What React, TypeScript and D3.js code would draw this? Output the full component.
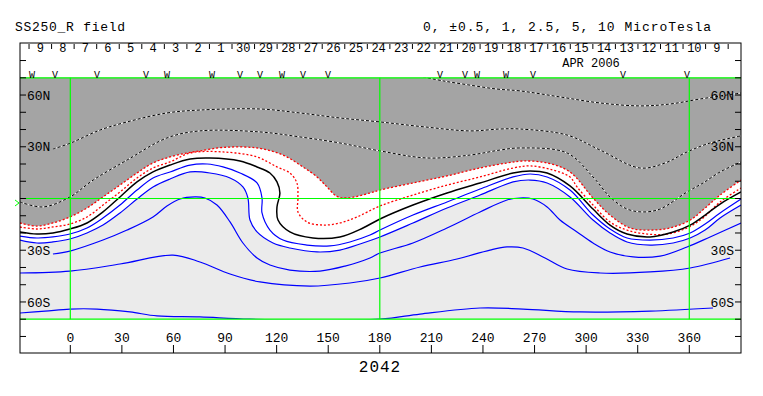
import React from "react";
import * as d3 from "d3";

type P = [number, number];

// Contour lines, [longitude, latitude]
const dashA: P[] = [[205.1,70.5],[216.8,68.2],[231.4,65.9],[247.9,63.5],[261.5,62.4],[284.8,58.9],[308.1,55.4],[331.3,53.7],[348.8,54.8],[366.3,57.7],[390.1,61.2]];
const dashB: P[] = [[-10.1,28.7],[-0.2,32.0],[17.3,39.7],[33.0,44.4],[56.2,49.6],[75.4,51.3],[110.3,51.9],[133.6,49.6],[156.8,46.7],[180.1,44.4],[206.3,41.5],[232.5,39.2],[249.9,40.3],[261.5,40.3],[288.9,36.8],[308.1,28.1],[331.3,17.7],[345.9,20.6],[358.7,27.0],[372.1,32.2],[390.1,36.3]];
const dashC: P[] = [[-29.3,-2.0],[-15.9,-4.9],[-0.2,0.9],[13.3,10.7],[33.0,22.3],[56.2,35.1],[75.4,39.2],[110.3,38.6],[133.6,35.7],[156.8,32.2],[180.1,27.6],[207.5,23.5],[232.5,25.2],[249.9,28.1],[261.5,29.3],[288.9,26.4],[304.0,12.5],[313.9,0.9],[323.8,-6.1],[333.1,-7.8],[343.0,-6.1],[358.7,3.8],[368.0,9.0],[377.9,15.4],[390.1,21.2]];
const redOuter: P[] = [[-29.3,-14.2],[-19.4,-16.0],[-10.1,-14.2],[-0.2,-10.7],[9.7,-5.5],[19.0,0.9],[28.9,7.8],[38.8,14.8],[48.1,20.6],[58.0,24.1],[67.9,26.4],[75.4,27.6],[88.8,29.6],[108.6,29.3],[123.7,25.2],[135.3,18.3],[143.5,12.5],[149.3,6.7],[155.1,1.2],[160.9,0.3],[174.3,3.2],[180.1,4.9],[199.3,9.0],[219.1,13.1],[238.3,17.7],[254.0,20.6],[263.3,21.75],[277.3,20.6],[290.6,15.4],[304.0,0.3],[313.9,-9.6],[325.5,-17.1],[337.2,-18.3],[348.8,-17.1],[360.5,-12.5],[369.2,-5.5],[377.9,2.0],[390.1,10.7]];
const redInner: P[] = [[-29.3,-16.5],[-19.4,-17.7],[-10.1,-16.5],[-0.2,-14.8],[9.7,-10.7],[19.0,-3.8],[28.9,3.8],[38.8,11.9],[48.1,17.7],[58.0,21.2],[69.7,26.4],[88.8,27.0],[108.6,24.1],[120.2,18.3],[127.7,14.8],[131.8,9.0],[132.4,0.3],[132.4,-7.8],[137.6,-13.6],[147.0,-15.4],[156.8,-14.2],[166.7,-10.7],[180.1,-4.35],[199.3,2.0],[219.1,7.8],[238.3,12.5],[257.5,17.7],[267.4,18.9],[280.7,16.5],[290.6,12.5],[294.7,6.7],[304.0,-3.8],[313.9,-13.6],[323.8,-18.3],[335.4,-20.6],[347.1,-20.6],[358.7,-17.1],[368.0,-11.3],[377.9,-2.0],[390.1,6.1]];
const neutral: P[] = [[-29.3,-19.4],[-19.4,-20.6],[-10.1,-20.0],[-0.2,-17.7],[9.7,-14.2],[19.0,-7.8],[28.9,0.9],[38.8,9.6],[48.1,15.4],[58.0,19.4],[69.7,22.9],[81.2,23.5],[98.7,21.75],[108.6,18.3],[116.1,14.8],[120.2,9.6],[121.9,3.2],[120.2,-4.9],[120.8,-12.5],[127.7,-19.4],[141.1,-22.9],[156.8,-22.3],[170.2,-17.1],[180.1,-11.9],[199.3,-3.8],[219.1,3.2],[238.3,9.0],[257.5,14.8],[267.4,16.0],[277.3,14.8],[290.6,7.3],[304.0,-6.1],[313.9,-15.4],[323.8,-20.6],[337.2,-22.3],[350.6,-19.4],[360.5,-15.4],[369.2,-9.6],[377.9,-3.2],[390.1,3.8]];
const blue05: P[] = [[-29.3,-21.75],[-19.4,-22.9],[-10.1,-22.3],[-0.2,-20.6],[9.7,-17.1],[19.0,-11.3],[28.9,-3.8],[38.8,4.9],[48.1,11.9],[58.0,15.4],[69.7,19.4],[79.6,20.0],[88.8,18.3],[98.7,14.8],[108.6,9.0],[111.5,0.3],[111.5,-8.4],[116.1,-18.3],[123.7,-24.1],[137.6,-27.0],[151.0,-27.5],[162.6,-25.2],[174.3,-21.2],[180.1,-18.3],[199.3,-9.6],[219.1,-2.0],[238.3,5.5],[257.5,12.5],[267.4,14.2],[277.3,12.5],[290.6,4.9],[304.0,-9.6],[313.9,-17.7],[323.8,-22.9],[337.2,-24.1],[350.6,-22.9],[360.5,-20.0],[369.2,-14.8],[377.9,-8.4],[390.1,-0.3]];
const blue1: P[] = [[-29.3,-24.1],[-19.4,-25.8],[-10.1,-25.2],[-0.2,-23.5],[9.7,-20.0],[19.0,-15.4],[28.9,-8.4],[38.8,-0.3],[48.1,6.7],[58.0,11.3],[69.7,15.4],[81.2,14.8],[92.9,11.9],[100.4,6.7],[103.3,0.3],[104.5,-12.5],[108.6,-19.4],[117.9,-25.8],[127.7,-28.7],[143.5,-31.0],[156.8,-29.9],[170.2,-25.8],[180.1,-22.3],[199.3,-14.2],[219.1,-5.5],[238.3,2.0],[257.5,9.6],[267.4,10.7],[277.3,9.0],[290.6,0.9],[304.0,-12.5],[313.9,-20.0],[323.8,-25.2],[337.2,-27.0],[350.6,-25.8],[360.5,-22.9],[369.2,-18.3],[377.9,-11.3],[390.1,-3.8]];
const blue25: P[] = [[-10.1,-32.2],[-0.2,-30.5],[19.0,-24.1],[33.0,-18.3],[48.1,-10.7],[56.2,-4.35],[63.8,-0.3],[72.5,0.9],[78.3,0.3],[85.3,-3.8],[92.9,-13.6],[100.4,-25.8],[108.6,-34.5],[116.1,-38.6],[127.7,-41.5],[145.2,-42.1],[159.8,-39.2],[174.3,-34.5],[180.1,-31.6],[199.3,-25.8],[219.1,-17.1],[238.3,-7.8],[254.0,-0.87],[261.5,0.3],[269.1,-0.3],[277.3,-4.9],[284.8,-12.5],[294.7,-19.4],[304.0,-25.8],[313.9,-31.0],[327.3,-33.9],[343.0,-33.4],[358.7,-28.1],[372.1,-22.3],[390.1,-14.2]];
const blue5: P[] = [[-29.3,-43.2],[-0.2,-42.1],[28.9,-38.0],[59.7,-32.8],[75.4,-36.8],[92.9,-43.8],[110.3,-48.4],[139.4,-50.8],[162.6,-49.0],[180.1,-46.1],[203.4,-39.7],[224.9,-35.1],[244.1,-29.9],[254.0,-28.1],[263.3,-28.7],[276.1,-34.5],[288.9,-40.9],[308.1,-43.2],[337.2,-42.6],[360.5,-40.3],[383.7,-34.5]];
const blue10: P[] = [[-29.3,-66.4],[-14.7,-65.3],[-0.2,-64.1],[15.5,-64.1],[34.7,-65.8],[50.4,-68.1],[75.4,-68.7],[104.5,-70],[180.1,-70],[203.4,-67],[238.3,-63.5],[263.3,-64.1],[296.4,-65.8],[337.2,-65.3],[373.8,-63.5]];

const latTicks = d3.range(-80, 81, 10);
const latLabels: [number, string][] = [[60, "60N"], [30, "30N"], [-30, "30S"], [-60, "60S"]];
const lonTicks = d3.range(0, 361, 30);
const greenLons = [0, 180, 360];
const greenLats = [70, 0, -70];
const earthLat = -2.6;

// Day strip (time runs right to left)
const dayStart = new Date(Date.UTC(2006, 3, 9));
const dayEnd = new Date(Date.UTC(2006, 4, 10));
const dayLonRange = [382.6, -24.0];

// Markers along the top
const markerLons = [-22.3, -8.9, 15.5, 44.0, 56.2, 82.4, 98.7, 110.3, 123.1, 135.3, 149.9, 215.0, 229.5, 236.5, 253.4, 269.1, 321.4, 358.7];
const markerTypes = ["W", "V", "V", "V", "W", "W", "V", "V", "W", "V", "V", "V", "V", "W", "W", "V", "V", "V"];

const FONT = "'Liberation Mono', 'DejaVu Sans Mono', monospace";

export default function App() {
  const W = 763, H = 396;
  const left = 20, right = 741, top = 43, bottom = 353;
  const x = d3.scaleLinear().domain([0, 360]).range([70.3, 689.3]);
  const y = d3.scaleLinear().domain([-90, 90]).range([353.7, 43.3]);
  const plotTop = y(70), plotBot = y(-70);

  const curve = d3.curveCatmullRom.alpha(0.5);
  const line = d3.line<P>().x(d => x(d[0])).y(d => y(d[1])).curve(curve);
  const areaBelow = d3.area<P>().x(d => x(d[0])).y0(y(-90)).y1(d => y(d[1])).curve(curve);
  const areaAbove = d3.area<P>().x(d => x(d[0])).y0(y(90)).y1(d => y(d[1])).curve(curve);

  const dayScale = d3.scaleUtc().domain([dayStart, dayEnd]).range(dayLonRange);
  const dayTicks = d3.utcDay.range(dayStart, new Date(+dayEnd + 1));
  const dayMids = d3.utcDay.range(dayStart, dayEnd).map(d => new Date(+d + 12 * 3600 * 1000));

  return (
    <svg width={W} height={H} style={{ display: "block", position: "absolute", left: 0, top: 0, background: "#fff" }}>
      <defs>
        <clipPath id="plot">
          <rect x={left} y={plotTop} width={right - left} height={plotBot - plotTop} />
        </clipPath>
      </defs>
      <text x={15} y={31} fontFamily={FONT} fontSize={13} textLength={110} fill="#000">SS250_R field</text>
      <text x={423} y={31} fontFamily={FONT} fontSize={13} textLength={288} fill="#000">0, ±0.5, 1, 2.5, 5, 10 MicroTesla</text>

      <g clipPath="url(#plot)">
        <rect x={left} y={plotTop} width={right - left} height={plotBot - plotTop} fill="#fff" />
        <path d={areaBelow(blue1) || ""} fill="#ebebeb" />
        <path d={areaAbove(redOuter) || ""} fill="#a4a4a4" />
        {[dashA, dashB, dashC].map((c, i) => (
          <g key={"d" + i}>
            <path d={line(c) || ""} fill="none" stroke="#fff" strokeWidth={1} />
            <path d={line(c) || ""} fill="none" stroke="#000" strokeWidth={1} strokeDasharray="3,2" />
          </g>
        ))}
        {[redOuter, redInner].map((c, i) => (
          <path key={"r" + i} d={line(c) || ""} fill="none" stroke="#ff0000" strokeWidth={1.3} strokeDasharray="2,2" />
        ))}
        <path d={line(neutral) || ""} fill="none" stroke="#000" strokeWidth={1.5} />
        {[blue05, blue1, blue25, blue5, blue10].map((c, i) => (
          <path key={"b" + i} d={line(c) || ""} fill="none" stroke="#0000ff" strokeWidth={1.2} />
        ))}
      </g>

      {greenLats.map(l => (
        <line key={"gl" + l} x1={left} x2={right} y1={y(l)} y2={y(l)} stroke="#00ff00" strokeWidth={1.2} />
      ))}
      {greenLons.map(l => (
        <line key={"gv" + l} x1={x(l)} x2={x(l)} y1={plotTop} y2={plotBot} stroke="#00ff00" strokeWidth={1.2} />
      ))}
      <path d={`M${left - 5},${y(earthLat) - 3}L${left - 1},${y(earthLat)}L${left - 5},${y(earthLat) + 3}`} fill="none" stroke="#00ff00" strokeWidth={1} />

      <rect x={left} y={top} width={right - left} height={bottom - top} fill="none" stroke="#000" strokeWidth={1} />

      {latTicks.map(l => (
        <g key={"lt" + l}>
          <line x1={left} x2={left + 6} y1={y(l)} y2={y(l)} stroke="#000" />
          <line x1={right - 6} x2={right} y1={y(l)} y2={y(l)} stroke="#000" />
        </g>
      ))}
      {latLabels.map(([l, s]) => (
        <g key={"ll" + l}>
          <text x={27} y={y(l)} dy="0.35em" fontFamily={FONT} fontSize={13} fill="#000">{s}</text>
          <text x={734} y={y(l)} dy="0.35em" textAnchor="end" fontFamily={FONT} fontSize={13} fill="#000">{s}</text>
        </g>
      ))}

      {lonTicks.map(l => (
        <g key={"x" + l}>
          <line x1={x(l)} x2={x(l)} y1={bottom - 8} y2={bottom} stroke="#000" />
          <text x={x(l)} y={342} textAnchor="middle" fontFamily={FONT} fontSize={13} fill="#000">{l}</text>
        </g>
      ))}
      <text x={380} y={372} textAnchor="middle" fontFamily={FONT} fontSize={16} letterSpacing={1} fill="#000">2042</text>

      {dayTicks.map((d, i) => (
        <line key={"dt" + i} x1={x(dayScale(d))} x2={x(dayScale(d))} y1={44} y2={49} stroke="#000" />
      ))}
      {dayMids.map((d, i) => (
        <text key={"dl" + i} x={x(dayScale(d))} y={52} textAnchor="middle" fontFamily={FONT} fontSize={12} fill="#000">{d.getUTCDate()}</text>
      ))}
      <text x={591} y={67} textAnchor="middle" fontFamily={FONT} fontSize={12} fill="#000">APR 2006</text>

      {markerLons.map((l, i) => (
        <text key={"m" + i} x={x(l)} y={77.5} textAnchor="middle" fontFamily={FONT} fontSize={10} fill="#000">{markerTypes[i]}</text>
      ))}
    </svg>
  );
}
